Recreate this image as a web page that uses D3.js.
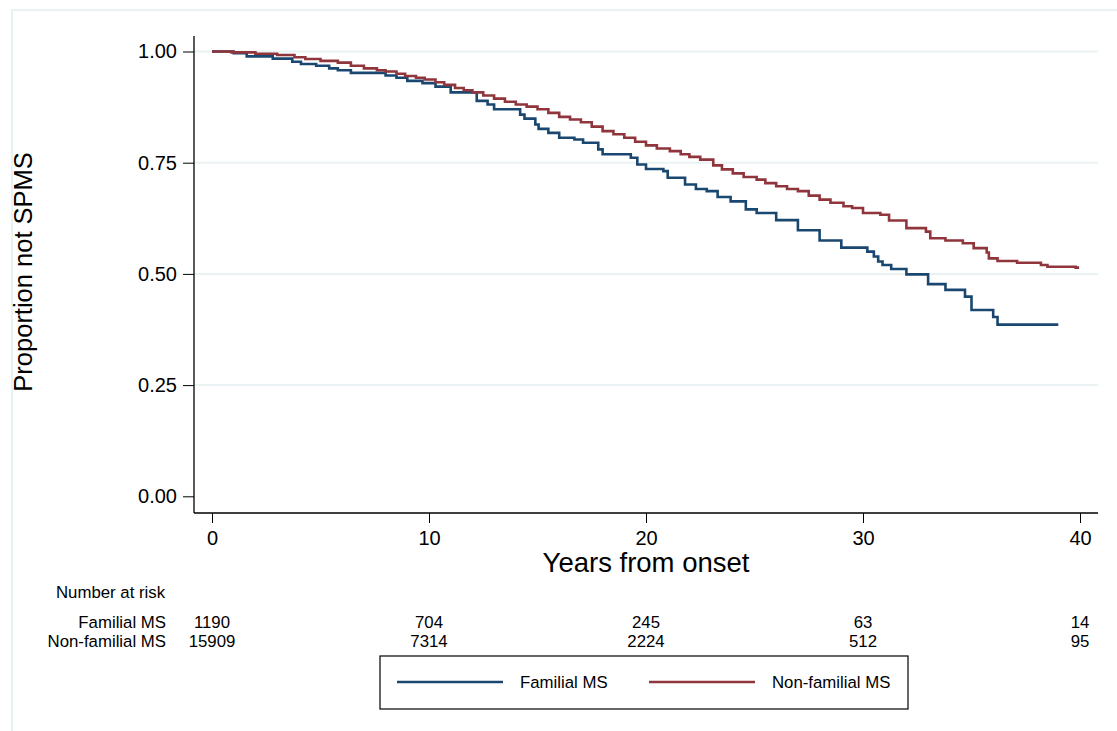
<!DOCTYPE html>
<html>
<head>
<meta charset="utf-8">
<script src="https://cdn.jsdelivr.net/npm/d3@7"></script>
<style>
  body { margin: 0; background: #fff; }
  svg { font-family: "Liberation Sans", Arial, sans-serif; }
  .grid line { stroke: #eaf2f3; stroke-width: 2; }
  .km { fill: none; stroke-width: 2.6; }
</style>
</head>
<body>
<div id="chart"></div>
<script>
// Kaplan-Meier step points: time (years) and survival from that time on
var famTime = [0, 1.0, 1.6, 2.8, 3.7, 4.1, 4.8, 5.4, 5.8, 6.4, 8.0, 8.5, 9.0, 9.7, 10.3, 11.0, 12.2, 12.7, 13.0, 14.2, 14.4, 14.9, 15.05, 15.5, 16.0, 16.7, 17.1, 17.8, 18.0, 19.3, 19.6, 20.0, 20.8, 21.0, 21.8, 22.3, 22.8, 23.3, 23.9, 24.6, 25.1, 26.0, 27.0, 28.0, 29.0, 30.2, 30.5, 30.7, 30.9, 31.3, 32.0, 33.0, 33.8, 34.7, 35.0, 36.0, 36.2, 39.0];
var famSurv = [1.0, 0.996, 0.989, 0.984, 0.977, 0.972, 0.968, 0.962, 0.958, 0.952, 0.946, 0.941, 0.934, 0.929, 0.921, 0.908, 0.889, 0.881, 0.870, 0.858, 0.849, 0.836, 0.826, 0.817, 0.806, 0.802, 0.795, 0.780, 0.769, 0.761, 0.746, 0.736, 0.731, 0.716, 0.701, 0.691, 0.686, 0.673, 0.663, 0.645, 0.637, 0.621, 0.598, 0.575, 0.559, 0.550, 0.539, 0.528, 0.520, 0.511, 0.499, 0.477, 0.464, 0.449, 0.419, 0.403, 0.386, 0.386];

var nonTime = [0, 0.9, 2.0, 3.0, 3.8, 4.3, 5.0, 5.8, 6.4, 7.0, 7.6, 8.0, 8.5, 8.9, 9.4, 9.8, 10.3, 10.7, 11.2, 11.6, 12.0, 12.5, 13.0, 13.5, 14.0, 14.5, 15.0, 15.5, 16.0, 16.5, 17.0, 17.5, 18.0, 18.5, 19.0, 19.5, 20.0, 20.5, 21.1, 21.6, 22.0, 22.5, 23.1, 23.5, 24.0, 24.5, 25.1, 25.5, 26.0, 26.5, 27.0, 27.5, 28.0, 28.5, 29.1, 29.5, 30.0, 30.8, 31.2, 32.0, 32.9, 33.1, 33.8, 34.6, 35.1, 35.7, 35.8, 36.2, 37.1, 38.2, 38.5, 39.8, 39.9];
var nonSurv = [1.0, 0.998, 0.995, 0.992, 0.987, 0.983, 0.979, 0.975, 0.968, 0.962, 0.958, 0.955, 0.950, 0.945, 0.941, 0.937, 0.931, 0.925, 0.918, 0.913, 0.908, 0.901, 0.894, 0.887, 0.881, 0.876, 0.870, 0.862, 0.853, 0.847, 0.841, 0.831, 0.821, 0.814, 0.806, 0.797, 0.789, 0.782, 0.776, 0.769, 0.763, 0.757, 0.744, 0.735, 0.726, 0.718, 0.712, 0.704, 0.697, 0.691, 0.686, 0.676, 0.667, 0.660, 0.652, 0.648, 0.637, 0.633, 0.620, 0.603, 0.595, 0.580, 0.575, 0.569, 0.558, 0.548, 0.535, 0.529, 0.525, 0.520, 0.516, 0.514, 0.511];

var seriesNames = ["Familial MS", "Non-familial MS"];
var seriesColors = ["#1a476f", "#90353b"];

var xTicks = [0, 10, 20, 30, 40];
var yTicks = [0, 0.25, 0.5, 0.75, 1];
var gridTicks = [0.25, 0.5, 0.75, 1];

// number at risk at each x tick
var riskFam = [1190, 704, 245, 63, 14];
var riskNon = [15909, 7314, 2224, 512, 95];

var W = 1117, H = 731;

var svg = d3.select("#chart").append("svg")
  .attr("width", W)
  .attr("height", H);

// outer graph region frame (cropped at right/bottom)
svg.append("rect")
  .attr("x", 12).attr("y", 10)
  .attr("width", W + 20).attr("height", H + 20)
  .attr("fill", "none")
  .attr("stroke", "#eaf2f3")
  .attr("stroke-width", 2);

var x = d3.scaleLinear().domain([0, 40]).range([212, 1080]);
var y = d3.scaleLinear().domain([0, 1]).range([496.3, 51.5]);

var axLeft = 194, axBottom = 513, axTop = 36, axRight = 1098;

// gridlines
svg.append("g").attr("class", "grid")
  .selectAll("line").data(gridTicks).enter().append("line")
  .attr("x1", axLeft).attr("x2", axRight)
  .attr("y1", function(d) {return y(d);})
  .attr("y2", function(d) {return y(d);});

// y axis
var gy = svg.append("g")
  .attr("transform", "translate(" + axLeft + ",0)")
  .call(d3.axisLeft(y).tickValues(yTicks).tickSize(11).tickPadding(6).tickFormat(d3.format(".2f")));
gy.select(".domain").remove();
gy.selectAll("text").attr("font-size", 20).attr("fill", "#000").attr("font-family", null);
gy.selectAll("line").attr("stroke", "#000");

// x axis
var gx = svg.append("g")
  .attr("transform", "translate(0," + axBottom + ")")
  .call(d3.axisBottom(x).tickValues(xTicks).tickSize(10).tickPadding(8));
gx.select(".domain").remove();
gx.selectAll("text").attr("font-size", 20).attr("fill", "#000").attr("font-family", null);
gx.selectAll("line").attr("stroke", "#000");

svg.append("line")
  .attr("x1", axLeft).attr("x2", axLeft)
  .attr("y1", axTop).attr("y2", axBottom)
  .attr("stroke", "#000").attr("stroke-width", 1.3);
svg.append("line")
  .attr("x1", axLeft).attr("x2", axRight)
  .attr("y1", axBottom).attr("y2", axBottom)
  .attr("stroke", "#000").attr("stroke-width", 1.3);

// axis titles
svg.append("text")
  .attr("x", x(20)).attr("y", 572)
  .attr("text-anchor", "middle")
  .attr("font-size", 27.5)
  .text("Years from onset");

svg.append("text")
  .attr("transform", "translate(32," + (y(0.5) - 2) + ") rotate(-90)")
  .attr("text-anchor", "middle")
  .attr("font-size", 25.5)
  .text("Proportion not SPMS");

// survival curves
var line = d3.line()
  .x(function(d) {return x(d[0]);})
  .y(function(d) {return y(d[1]);})
  .curve(d3.curveStepAfter);

var curves = [d3.zip(famTime, famSurv), d3.zip(nonTime, nonSurv)];

svg.selectAll("path.km")
  .data(curves).enter().append("path")
  .attr("class", "km")
  .attr("stroke", function(d, i) {return seriesColors[i];})
  .attr("d", line);

// number at risk table
svg.append("text")
  .attr("x", 56).attr("y", 598)
  .attr("font-size", 16.8)
  .text("Number at risk");

var riskRows = [riskFam, riskNon];
var riskY = [628, 647];
riskRows.forEach(function(row, i) {
  svg.append("text")
    .attr("x", 166).attr("y", riskY[i])
    .attr("text-anchor", "end")
    .attr("font-size", 16.8)
    .text(seriesNames[i]);
  svg.append("g").selectAll("text")
    .data(row).enter().append("text")
    .attr("x", function(d, j) {return x(xTicks[j]);})
    .attr("y", riskY[i])
    .attr("text-anchor", "middle")
    .attr("font-size", 16.8)
    .text(function(d) {return d;});
});

// legend
var lg = svg.append("g");
lg.append("rect")
  .attr("x", 380).attr("y", 656)
  .attr("width", 528).attr("height", 53)
  .attr("fill", "#fff")
  .attr("stroke", "#000")
  .attr("stroke-width", 1.2);

var legendX = [397, 649];
seriesNames.forEach(function(name, i) {
  lg.append("line")
    .attr("x1", legendX[i]).attr("x2", legendX[i] + 106)
    .attr("y1", 682).attr("y2", 682)
    .attr("stroke", seriesColors[i])
    .attr("stroke-width", 2.6);
  lg.append("text")
    .attr("x", legendX[i] + 123).attr("y", 688)
    .attr("font-size", 16.8)
    .text(name);
});
</script>
</body>
</html>
